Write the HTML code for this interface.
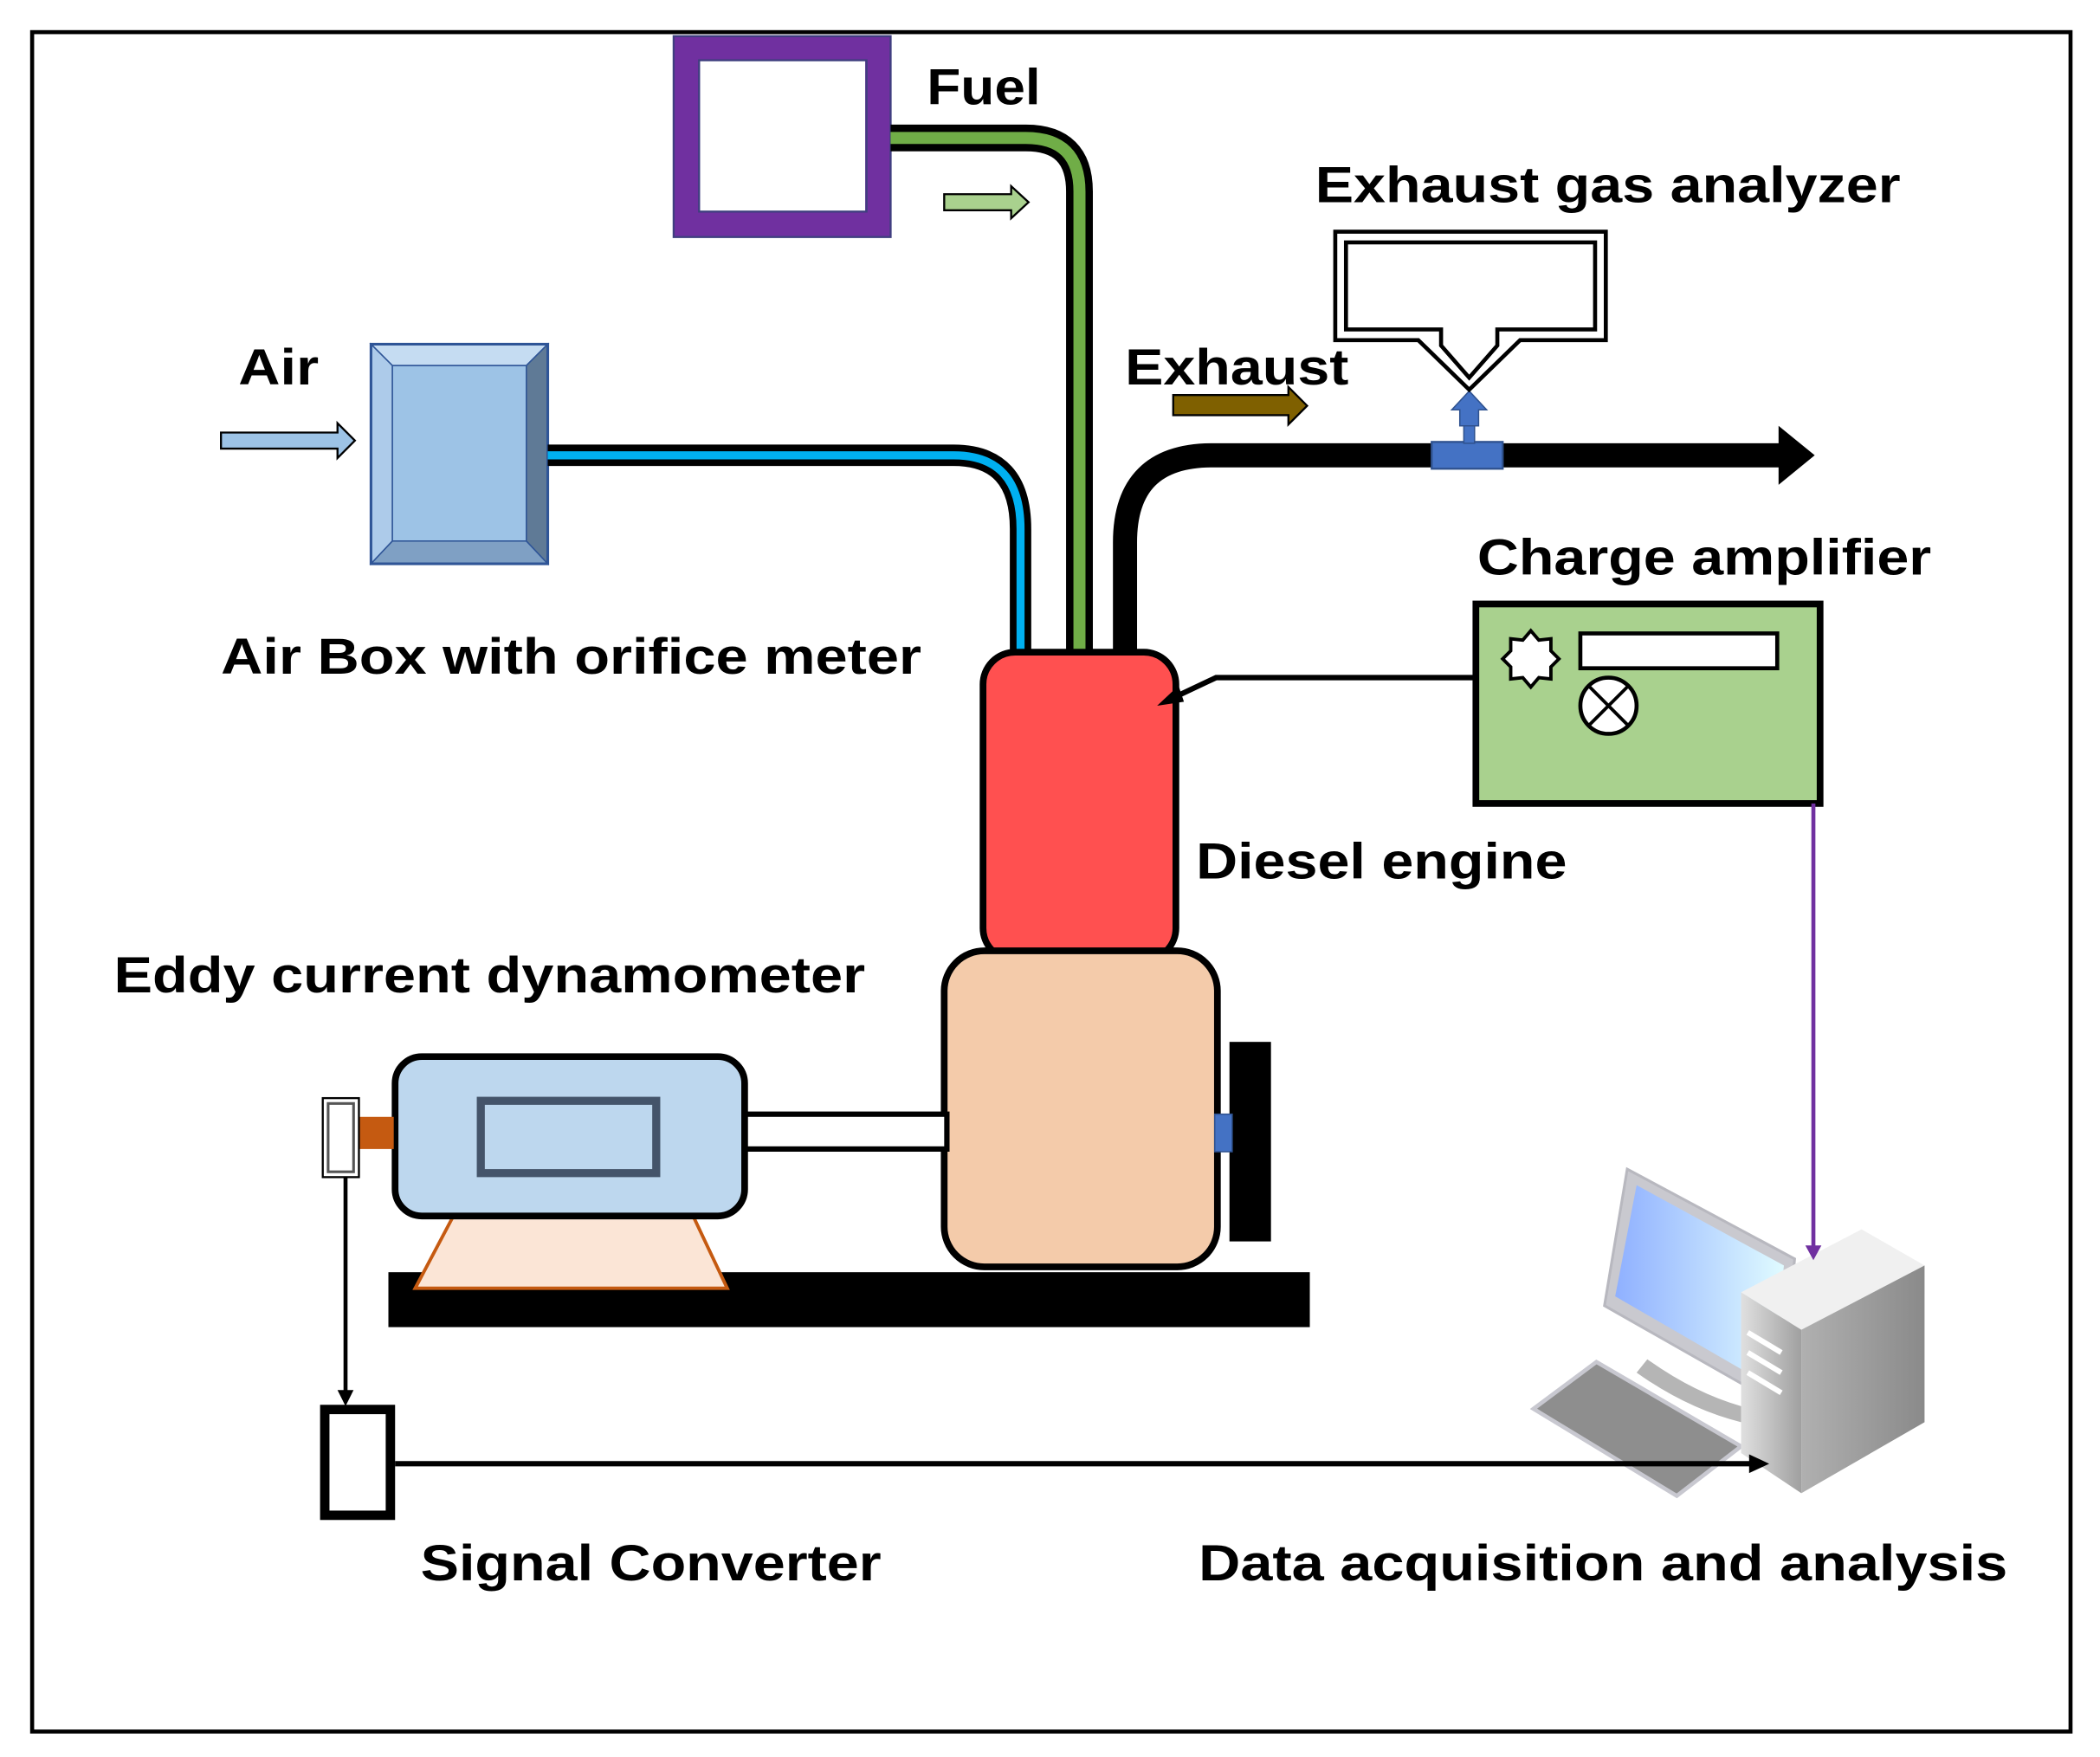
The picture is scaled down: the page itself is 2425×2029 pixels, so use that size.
<!DOCTYPE html>
<html><head><meta charset="utf-8"><style>html,body{margin:0;padding:0;background:#fff}svg{display:block}</style></head>
<body>
<svg width="2425" height="2029" viewBox="0 0 1568 1312" preserveAspectRatio="none" xmlns="http://www.w3.org/2000/svg" font-family="Liberation Sans, Arial, sans-serif" font-weight="bold" font-size="38">
<defs>
<linearGradient id="scr" x1="0" y1="0" x2="1" y2="0"><stop offset="0" stop-color="#8fb0ff"/><stop offset="1" stop-color="#e0fbff"/></linearGradient>
<linearGradient id="tw" x1="0" y1="0" x2="1" y2="0"><stop offset="0" stop-color="#e0e0e0"/><stop offset="1" stop-color="#a0a0a0"/></linearGradient>
<linearGradient id="tr" x1="0" y1="0" x2="1" y2="0"><stop offset="0" stop-color="#b0b0b0"/><stop offset="1" stop-color="#8a8a8a"/></linearGradient>
</defs>
<rect x="0" y="0" width="1568" height="1312" fill="#fff"/>
<rect x="24" y="24" width="1522" height="1269" fill="none" stroke="#000" stroke-width="3"/>

<!-- fuel tank -->
<rect x="512.5" y="36" width="143" height="132" fill="#fff" stroke="#7030a0" stroke-width="19"/>
<rect x="503" y="27" width="162" height="150" fill="none" stroke="#3f3f7f" stroke-width="1.5"/>
<rect x="522" y="45" width="125" height="113" fill="none" stroke="#3f3f7f" stroke-width="1.5"/>
<path d="M665 103 H766 Q806 103 806 143 V488" fill="none" stroke="#000" stroke-width="20"/>
<path d="M665 103 H766 Q806 103 806 143 V486" fill="none" stroke="#70ad47" stroke-width="9"/>
<path d="M705 145 H755 V139 L768 151 L755 163 V157 H705 Z" fill="#a9d18e" stroke="#000" stroke-width="1.5"/>
<text x="692" y="78" textLength="85" lengthAdjust="spacingAndGlyphs">Fuel</text>

<!-- air box -->
<polygon points="277,257 409,257 393,273 293,273" fill="#c5dcf2" stroke="#2f5597" stroke-width="1"/>
<polygon points="277,257 293,273 293,404 277,421" fill="#adcbea" stroke="#2f5597" stroke-width="1"/>
<polygon points="409,257 409,421 393,404 393,273" fill="#5f7a96" stroke="#2f5597" stroke-width="1"/>
<polygon points="277,421 409,421 393,404 293,404" fill="#7fa0c4" stroke="#2f5597" stroke-width="1"/>
<rect x="293" y="273" width="100" height="131" fill="#9dc3e6" stroke="#2f5597" stroke-width="1"/>
<rect x="277" y="257" width="132" height="164" fill="none" stroke="#2f5597" stroke-width="2"/>
<path d="M409 340 H712 Q762 340 762 395 V488" fill="none" stroke="#000" stroke-width="16"/>
<path d="M409 340 H712 Q762 340 762 395 V486" fill="none" stroke="#00b0f0" stroke-width="6"/>
<path d="M165 323 H252 V316 L265 329 L252 342 V335 H165 Z" fill="#9dc3e6" stroke="#000" stroke-width="1.5"/>
<text x="178" y="287" textLength="60" lengthAdjust="spacingAndGlyphs">Air</text>
<text x="165" y="503" textLength="523" lengthAdjust="spacingAndGlyphs">Air Box with orifice meter</text>

<!-- exhaust pipe -->
<path d="M840 488 V405 Q840 340 905 340 H1332" fill="none" stroke="#000" stroke-width="18"/>
<polygon points="1328,318 1355,340 1328,362" fill="#000"/>
<path d="M876 295 H962 V289 L976 303 L962 317 V310 H876 Z" fill="#7f6000" stroke="#000" stroke-width="1.5"/>
<text x="840" y="287" textLength="167" lengthAdjust="spacingAndGlyphs">Exhaust</text>
<rect x="1069" y="330" width="53" height="20" fill="#4472c4" stroke="#2f528f" stroke-width="1.5"/>
<rect x="1093" y="317" width="8" height="14" fill="#4472c4" stroke="#2f528f" stroke-width="1"/>
<polygon points="1097,292 1110,306 1104,306 1104,318 1090,318 1090,306 1084,306" fill="#4472c4" stroke="#2f528f" stroke-width="1"/>
<!-- analyzer callout -->
<path d="M997 173 H1199 V254 H1135 L1097 291 L1059 254 H997 Z" fill="#fff" stroke="#000" stroke-width="3"/>
<path d="M1005 181 H1191 V246 H1118 V258 L1097 282 L1076 258 V246 H1005 Z" fill="#fff" stroke="#000" stroke-width="3"/>
<text x="982" y="151" textLength="437" lengthAdjust="spacingAndGlyphs">Exhaust gas analyzer</text>

<!-- engine -->
<rect x="734" y="487" width="144" height="230" rx="24" fill="#ff5050" stroke="#000" stroke-width="5"/>
<rect x="705" y="710" width="204" height="236" rx="30" fill="#f4cbaa" stroke="#000" stroke-width="5"/>
<rect x="918" y="778" width="31" height="149" fill="#000"/>
<rect x="907" y="832" width="13" height="28" fill="#4472c4" stroke="#2f528f" stroke-width="1"/>
<text x="893" y="656" textLength="277" lengthAdjust="spacingAndGlyphs">Diesel engine</text>

<rect x="290" y="950" width="688" height="41" fill="#000"/>
<polygon points="338,909 518,909 543,962 310,962" fill="#fbe5d6" stroke="#c55a11" stroke-width="2.5"/>
<rect x="556" y="832" width="151" height="26" fill="#fff" stroke="#000" stroke-width="4"/>
<rect x="295" y="789" width="261" height="119" rx="20" fill="#bdd7ee" stroke="#000" stroke-width="5"/>
<rect x="359" y="822" width="131" height="54" fill="#bdd7ee" stroke="#44546a" stroke-width="6"/>
<rect x="268" y="834" width="26" height="24" fill="#c55a11"/>
<rect x="241" y="820" width="27" height="59" fill="#fff" stroke="#000" stroke-width="1.5"/>
<rect x="245" y="824" width="19" height="51" fill="#fff" stroke="#555" stroke-width="2"/>
<text x="85" y="741" textLength="561" lengthAdjust="spacingAndGlyphs">Eddy current dynamometer</text>

<!-- computer -->
<polygon points="1145,1052 1192,1017 1300,1080 1252,1117" fill="#8e8e8e" stroke="#c8c8d0" stroke-width="3"/>
<path d="M1230 1015 Q1265 1040 1300 1050 L1300 1062 Q1260 1052 1222 1025 Z" fill="#b5b5b5"/>
<polygon points="1215,873 1340,940 1330,1050 1198,975" fill="#c9c9cf" stroke="#b8b8bf" stroke-width="2"/>
<polygon points="1222,885 1332,945 1322,1035 1206,968" fill="url(#scr)"/>
<polygon points="1300,965 1390,918 1437,945 1345,993" fill="#f0f0f0"/>
<polygon points="1300,965 1345,993 1345,1115 1300,1085" fill="url(#tw)"/>
<polygon points="1345,993 1437,945 1437,1062 1345,1115" fill="url(#tr)"/>
<line x1="1305" y1="995" x2="1330" y2="1010" stroke="#fff" stroke-width="4"/>
<line x1="1305" y1="1010" x2="1330" y2="1025" stroke="#fff" stroke-width="4"/>
<line x1="1305" y1="1025" x2="1330" y2="1040" stroke="#fff" stroke-width="4"/>

<!-- signal converter -->
<line x1="258" y1="879" x2="258" y2="1040" stroke="#000" stroke-width="3"/>
<polygon points="252,1038 264,1038 258,1050" fill="#000"/>
<rect x="242.5" y="1052.5" width="49" height="79" fill="#fff" stroke="#000" stroke-width="7"/>
<line x1="295" y1="1093" x2="1310" y2="1093" stroke="#000" stroke-width="4"/>
<polygon points="1306,1086 1321,1093 1306,1100" fill="#000"/>
<text x="314" y="1180" textLength="344" lengthAdjust="spacingAndGlyphs">Signal Converter</text>

<!-- charge amplifier -->
<rect x="1102" y="451" width="257" height="149" fill="#a9d18e" stroke="#000" stroke-width="5"/>
<polygon points="1143,471 1149,478 1158,477 1158,486 1164,492 1158,498 1158,507 1149,506 1143,513 1137,506 1128,507 1128,498 1122,492 1128,486 1128,477 1137,478" fill="#fff" stroke="#000" stroke-width="2.5"/>
<rect x="1180" y="473" width="147" height="26" fill="#fff" stroke="#000" stroke-width="3"/>
<circle cx="1201" cy="527" r="21" fill="#fff" stroke="#000" stroke-width="3"/>
<line x1="1186" y1="512" x2="1216" y2="542" stroke="#000" stroke-width="2.5"/>
<line x1="1216" y1="512" x2="1186" y2="542" stroke="#000" stroke-width="2.5"/>
<path d="M1102 506 H908 L874 522" fill="none" stroke="#000" stroke-width="4"/>
<polygon points="864,527 880,512 884,524" fill="#000"/>
<line x1="1354" y1="600" x2="1354" y2="932" stroke="#7030a0" stroke-width="3"/>
<polygon points="1348,930 1360,930 1354,941" fill="#7030a0"/>
<text x="1103" y="429" textLength="339" lengthAdjust="spacingAndGlyphs">Charge amplifier</text>
<text x="895" y="1180" textLength="604" lengthAdjust="spacingAndGlyphs">Data acquisition and analysis</text>
</svg>
</body></html>
